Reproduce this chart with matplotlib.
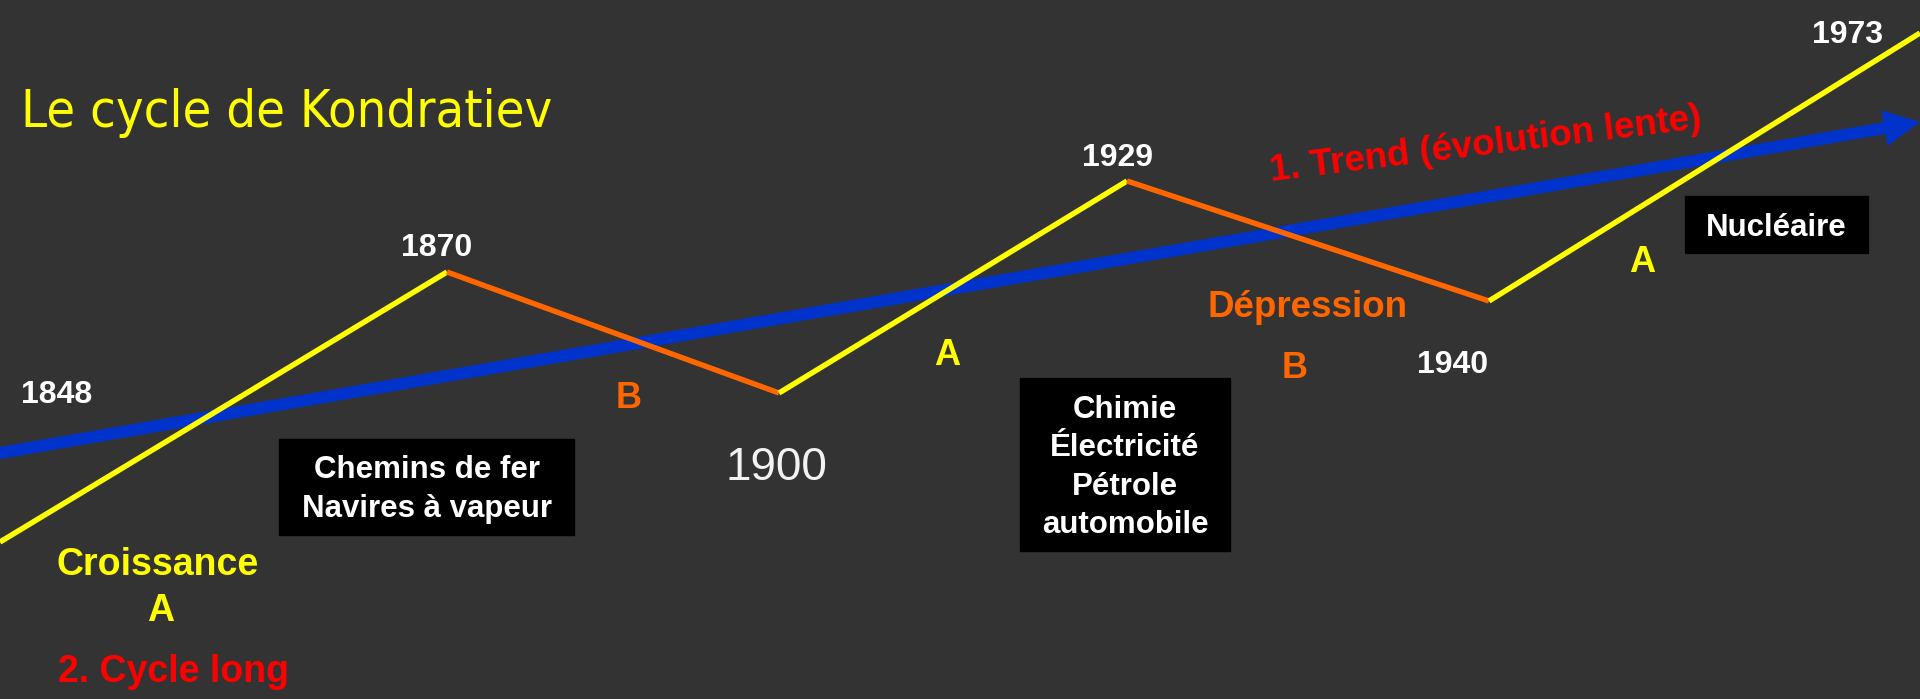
import matplotlib.pyplot as plt
from matplotlib.patches import Rectangle, FancyArrow

W, H = 1920, 699

# schematic long wave: turning points of the cycle (slide position, level)
years = [1848, 1870, 1900, 1929, 1940, 1973]
cycle_x = [0, 447, 779, 1127, 1489, 1920]
cycle_level = [157, 427, 306, 518, 398, 666]

# long trend (slow evolution)
trend_x = [0, 1920]
trend_level = [246, 577]

innovations = [
    ['Chemins de fer', 'Navires à vapeur'],
    ['Chimie', 'Électricité', 'Pétrole', 'automobile'],
    ['Nucléaire'],
]

BG = '#333333'
YELLOW = '#FFFF00'
ORANGE = '#FF6600'
RED = '#FF0000'
BLUE = '#0033CC'
BOLD = dict(family='Liberation Sans', fontweight='bold')

fig = plt.figure(figsize=(W / 100, H / 100), dpi=100)
fig.patch.set_facecolor(BG)
ax = fig.add_axes([0, 0, 1, 1])
ax.set_xlim(0, W)
ax.set_ylim(0, H)
ax.axis('off')


def txt(x, y_img, s, **kw):
    # y given from the top of the slide
    kw.setdefault('va', 'baseline')
    kw.setdefault('ha', 'center')
    ax.text(x, H - y_img, s, **kw)


# trend arrow
slope = (trend_level[1] - trend_level[0]) / (trend_x[1] - trend_x[0])
x0 = trend_x[0] - 20
y0 = trend_level[0] - 20 * slope
ax.add_patch(FancyArrow(x0, y0, trend_x[1] - x0, trend_level[1] - y0,
                        width=12, head_width=36, head_length=36,
                        length_includes_head=True, color=BLUE, lw=0, zorder=2))

# cycle: rising phases A in yellow, falling phases B in orange
for i in range(len(cycle_x) - 1):
    rising = cycle_level[i + 1] > cycle_level[i]
    ax.plot(cycle_x[i:i + 2], cycle_level[i:i + 2],
            color=YELLOW if rising else ORANGE, lw=3.9,
            solid_capstyle='butt', zorder=3)

# title
txt(21, 127, 'Le cycle de Kondratiev', ha='left', color=YELLOW, fontsize=37.5,
    family='DejaVu Sans', fontstretch='condensed')

# years
year_pos = [(21, 403, 'left'), (437, 256, 'center'), (776, 480, 'center'),
            (1118, 166, 'center'), (1453, 373, 'center'), (1847, 43, 'center')]
for yr, (x, y, ha) in zip(years, year_pos):
    if yr == 1900:
        txt(x, y, str(yr), ha=ha, color='#F2F2F2', fontsize=33, family='Liberation Sans')
    else:
        txt(x, y, str(yr), ha=ha, color='white', fontsize=23, **BOLD)

# phase labels
txt(158, 575, 'Croissance', color=YELLOW, fontsize=27, **BOLD)
txt(161, 621, 'A', color=YELLOW, fontsize=27, **BOLD)
txt(58, 682, '2. Cycle long', ha='left', color=RED, fontsize=27, **BOLD)
txt(629, 408, 'B', color=ORANGE, fontsize=26, **BOLD)
txt(947, 365, 'A', color=YELLOW, fontsize=26, **BOLD)
txt(1308, 317, 'Dépression', color=ORANGE, fontsize=26.5, **BOLD)
txt(1295, 378, 'B', color=ORANGE, fontsize=26, **BOLD)
txt(1642, 272, 'A', color=YELLOW, fontsize=26, **BOLD)
txt(1487, 155, '1. Trend (évolution lente)', color=RED, fontsize=26.5,
    rotation=7, rotation_mode='anchor', **BOLD)

# innovation boxes: left, top, width, height, first baseline, line step
boxes = [(279, 439, 295, 96, 478, 39),
         (1020, 378, 210, 173, 418, 38.4),
         (1685, 196, 183, 57, 236, 0)]
for (bx, by, bw, bh, base, step), lines in zip(boxes, innovations):
    ax.add_patch(Rectangle((bx, H - by - bh), bw, bh, color='black', zorder=4))
    for k, line in enumerate(lines):
        txt(bx + bw / 2, base + k * step, line, color='white', fontsize=22.5,
            zorder=5, **BOLD)

fig.savefig('out.png', dpi=100, facecolor=BG)
